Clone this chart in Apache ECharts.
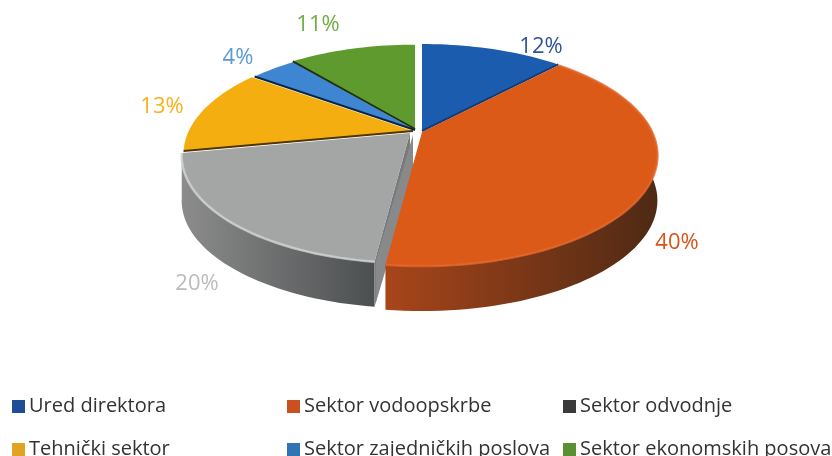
<!DOCTYPE html>
<html><head><meta charset="utf-8">
<style>html,body{margin:0;padding:0;background:#fff}#c{width:832px;height:456px}</style>
<script src="https://cdn.jsdelivr.net/npm/echarts@6/dist/echarts.min.js"></script>
</head><body><div id="c"></div>
<script>
const categories = ['Ured direktora','Sektor vodoopskrbe','Sektor odvodnje','Tehnički sektor','Sektor zajedničkih poslova','Sektor ekonomskih posova'];
const values = [12,40,20,13,4,11];

// Look of each slice (colours, explode offset, radial scale, label place)
const topColors = ['#1c5cae','#dc5a17','#a4a6a6','#f4ae10','#3f86d2','#5f9a2f'];
const wallColors = [['#123c75','#123c75'],['#a8451a','#4e2a14'],['#8c8c8c','#4c4f50'],['#4f3606','#4f3606'],['#10253f','#10253f'],['#1d3010','#1d3010']];
const rimColors = ['#1c5cae','#e2652a','#d2d4d4','#f4ae10','#3f86d2','#5f9a2f'];
const labelColors = ['#2f5597','#d9541a','#bcbcbc','#f6b21a','#5b9bd5','#70ad47'];
const legendColors = ['#1f4e96','#c9501f','#3a3a3a','#e0a422','#2e75b6','#5a8f32'];
const apexes = [[422,131],[422,132],[410,133],[413,131],[415,130],[415,129]];
const scales = [1,1,0.97,0.975,0.97,0.97];
const labelAt = [[541,47],[677,243],[197,284],[162,107],[238,58],[318,25]];
const drawOrder = [3,4,5,0,2,1];
const hasWall = [false,true,true,false,false,false];
const edgeLine = ['end',null,null,'start','start','start'];

const RX = 230, RY = 105.5, K = 0.213, DEPTH = 45;
const total = values.reduce((a,b)=>a+b,0);
const starts = []; values.reduce((a,v,i)=>(starts[i]=a,a+v),0);

function project(i, theta, drop){
  const u = Math.sin(theta), v = -Math.cos(theta), w = 1 - K*v, s = scales[i];
  return [apexes[i][0] + s*RX*u/w, apexes[i][1] + s*RY*v/w + (drop||0)];
}
function arc(i, drop, reverse){
  const a0 = starts[i]/total*2*Math.PI, a1 = (starts[i]+values[i])/total*2*Math.PI;
  const n = Math.max(8, Math.ceil(values[i]*2)), pts = [];
  for(let j=0;j<=n;j++) pts.push(project(i, a0+(a1-a0)*j/n, drop));
  return reverse ? pts.reverse() : pts;
}
function renderSlice(i){
  return function(){
    const kids = [];
    const grad = c => ({type:'linear',x:0,y:0,x2:1,y2:0,colorStops:[{offset:0,color:c[0]},{offset:1,color:c[1]}]});
    const outer = arc(i,0), ax = apexes[i];
    if(hasWall[i]){
      kids.push({type:'polygon',shape:{points:outer.concat(arc(i,DEPTH,true))},style:{fill:grad(wallColors[i])}});
      if(i===2){ // inner cut face of the grey slice
        const c = outer[0];
        kids.push({type:'polygon',shape:{points:[[ax[0],ax[1]],[ax[0],ax[1]+DEPTH],[c[0],c[1]+DEPTH],c]},style:{fill:'#77797a'}});
        kids.push({type:'polygon',shape:{points:[[ax[0]+3,ax[1]+2],[ax[0]+3,ax[1]+DEPTH],[c[0]+1,c[1]+DEPTH-3],[c[0]+1,c[1]]]},style:{fill:'#87898a'}});
      }
    }
    kids.push({type:'polygon',shape:{points:[ax].concat(outer)},style:{fill:topColors[i]}});
    if(edgeLine[i]){
      const e = edgeLine[i]==='start' ? outer[0] : outer[outer.length-1];
      kids.push({type:'line',shape:{x1:ax[0],y1:ax[1],x2:e[0],y2:e[1]},style:{stroke:wallColors[i][1],lineWidth:2}});
    }
    if(i===1||i===2){
      kids.push({type:'polyline',shape:{points:outer},style:{fill:null,stroke:rimColors[i],lineWidth:2.5,opacity:0.8}});
    }
    kids.push({type:'text',style:{x:labelAt[i][0],y:labelAt[i][1],text:values[i]+'%',fill:labelColors[i],
      font:'22px "Open Sans", sans-serif',align:'center',verticalAlign:'middle'}});
    return {type:'group',children:kids};
  };
}
const series = drawOrder.map(i=>({
  type:'custom',name:categories[i],coordinateSystem:'none',silent:true,animation:false,
  itemStyle:{color:legendColors[i]},data:[[values[i]]],renderItem:renderSlice(i),
  z:2
}));
const legendX = [12,287,563];
const legendTop = [393,436];
const legend = categories.map((name,i)=>({
  orient:'horizontal',left:legendX[i%3],top:legendTop[Math.floor(i/3)],itemWidth:13,itemHeight:13,padding:0,selectedMode:false,icon:'rect',
  textStyle:{color:'#333',fontFamily:'"Open Sans", sans-serif',fontSize:20,lineHeight:27,padding:[0,0,0,-1]},
  data:[{name,itemStyle:{color:legendColors[i]}}]
}));
const chart = echarts.init(document.getElementById('c'),null,{renderer:'canvas'});
chart.setOption({backgroundColor:'#fff',animation:false,tooltip:{show:false},legend,series});
</script></body></html>
